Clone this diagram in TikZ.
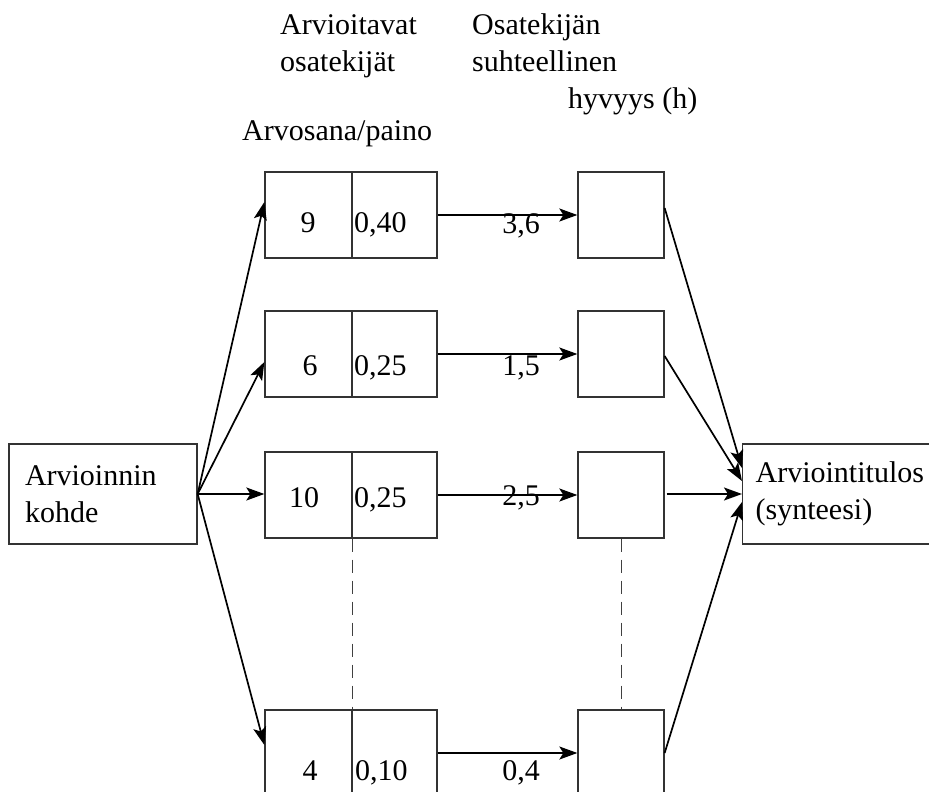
\documentclass[tikz,border=0pt]{standalone}
\usepackage{fontspec}
\setmainfont{Liberation Serif}
\usetikzlibrary{arrows.meta}
\begin{document}
\begin{tikzpicture}[x=1pt,y=-1pt,
  lbl/.style={font=\fontsize{30}{37}\selectfont, inner sep=0pt},
  cell/.style={draw=black!80, line width=1.3pt, inner sep=0pt, minimum height=86pt},
  bigbox/.style={draw=black!80, line width=1.3pt, lbl, align=left, minimum height=100pt},
  conn/.style={line width=1.7pt, -{Stealth[length=18pt,width=13pt,inset=4pt]}},
  dsh/.style={draw=black!75, line width=1pt, dash pattern=on 13pt off 8pt}]
\useasboundingbox (0,0) rectangle (929,792);

% headers
\node[lbl, anchor=base west, align=left] (a) at (280,72) {Arvioitavat\\osatekijät};
\node[lbl, anchor=base west, align=left] (o) at (472,72) {Osatekijän\\suhteellinen};
\node[lbl, anchor=base west] (hy) at (568,108) {hyvyys (h)};
\node[lbl, anchor=base west] (ap) at (242,140) {Arvosana/paino};

% big boxes
\node[bigbox, text width=156pt, inner xsep=16pt] (k) at (103,494) {Arvioinnin\\kohde};
\node[bigbox, text width=170pt, inner xsep=13pt, anchor=west] (r) at (742,494) {Arviointitulos\\(synteesi)};

% cells
\foreach \i/\y in {1/215, 2/354, 3/495, 4/753} {
  \node[cell, minimum width=87pt] (g\i) at (308.5,\y) {};
  \node[cell, minimum width=85pt] (w\i) at (394.5,\y) {};
  \node[cell, minimum width=86pt] (h\i) at (621,\y) {};
}

% cell texts
\node[lbl, anchor=base] (n1) at (308,232) {9};
\node[lbl, anchor=base west] (p1) at (354,232) {0,40};
\node[lbl, anchor=base] (n2) at (310,375) {6};
\node[lbl, anchor=base west] (p2) at (354,375) {0,25};
\node[lbl, anchor=base] (n3) at (304,507) {10};
\node[lbl, anchor=base west] (p3) at (354,507) {0,25};
\node[lbl, anchor=base] (n4) at (310,780) {4};
\node[lbl, anchor=base west] (p4) at (355,780) {0,10};

% arrow labels
\node[lbl, anchor=base] (v1) at (521,233) {3,6};
\node[lbl, anchor=base] (v2) at (521,375) {1,5};
\node[lbl, anchor=base] (v3) at (521,505) {2,5};
\node[lbl, anchor=base] (v4) at (521,780) {0,4};

% connectors left
\draw[conn] (k.east) -- ([yshift=13pt]g1.west);
\draw[conn] (k.east) -- ([yshift=-8pt]g2.west);
\draw[conn] (k.east) -- (k.east -| g3.west);
\draw[conn] (k.east) -- ([yshift=8pt]g4.west);

% middle connectors
\foreach \i in {1,2,3,4} {
  \draw[conn] (w\i.east) -- (h\i.west);
}

% right connectors
\draw[conn] ([yshift=7pt]h1.east) -- ([yshift=26pt]r.west);
\draw[conn] ([yshift=-2pt]h2.east) -- ([yshift=13pt]r.west);
\draw[conn] ([xshift=2pt]h3.east |- r.west) -- (r.west);
\draw[conn] (h4.east) -- ([yshift=-8pt]r.west);

% dashed
\draw[dsh] (g3.south east) -- (g4.north east);
\draw[dsh] (h3.south) -- (h4.north);
\end{tikzpicture}
\end{document}
